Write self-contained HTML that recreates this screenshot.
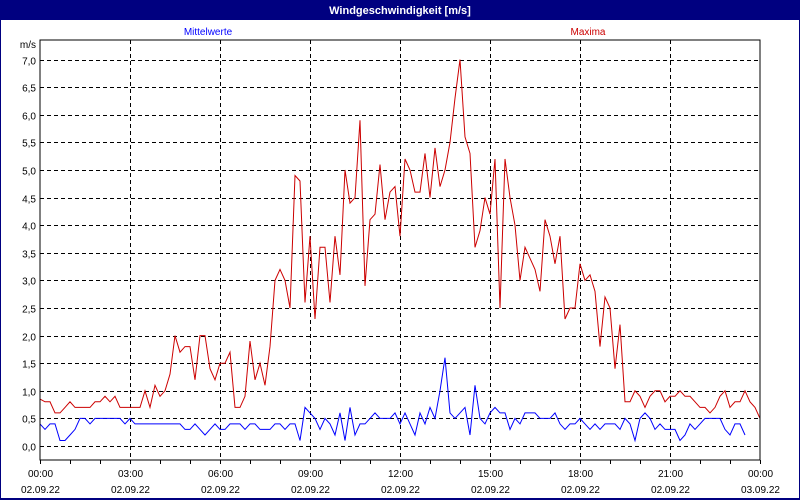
<!DOCTYPE html>
<html><head><meta charset="utf-8"><style>
body{margin:0;width:800px;height:500px;overflow:hidden;background:#fff}
svg{display:block;font-family:"Liberation Sans",sans-serif}
</style></head><body>
<svg width="800" height="500">
<rect x="0" y="0" width="800" height="500" fill="#000080"/>
<rect x="1" y="20" width="798" height="478" fill="#fff"/>
<text x="400" y="14" fill="#fff" font-size="11" font-weight="bold" text-anchor="middle">Windgeschwindigkeit [m/s]</text>
<text x="208" y="35" fill="#0000ff" font-size="10" text-anchor="middle">Mittelwerte</text>
<text x="588" y="35" fill="#cc0000" font-size="10" text-anchor="middle">Maxima</text>
<text x="36" y="48" font-size="10" text-anchor="end">m/s</text>
<g id="grid"></g>
<g id="series"></g>
<rect x="40" y="40" width="720" height="420" fill="none" stroke="#000" stroke-width="1"/>
<g id="axes"></g>
</svg>
<script>
const yTicks=[0,0.5,1,1.5,2,2.5,3,3.5,4,4.5,5,5.5,6,6.5,7];
const xTickHours=[0,3,6,9,12,15,18,21,24];
const xTimeLabels=["00:00","03:00","06:00","09:00","12:00","15:00","18:00","21:00","00:00"];
const xDateLabels=["02.09.22","02.09.22","02.09.22","02.09.22","02.09.22","02.09.22","02.09.22","02.09.22","03.09.22"];
const maxima=[0.85,0.8,0.8,0.6,0.6,0.7,0.8,0.7,0.7,0.7,0.7,0.8,0.8,0.9,0.8,0.9,0.7,0.7,0.7,0.7,0.7,1.0,0.7,1.1,0.9,1.0,1.3,2.0,1.7,1.8,1.8,1.2,2.0,2.0,1.4,1.2,1.5,1.5,1.7,0.7,0.7,0.9,1.9,1.2,1.5,1.1,1.8,3.0,3.2,3.0,2.5,4.9,4.8,2.6,3.8,2.3,3.6,3.6,2.6,3.8,3.1,5.0,4.4,4.5,5.9,2.9,4.1,4.2,5.1,4.1,4.6,4.7,3.8,5.2,5.0,4.6,4.6,5.3,4.5,5.4,4.7,5.0,5.5,6.3,7.0,5.6,5.3,3.6,3.9,4.5,4.2,5.2,2.5,5.2,4.5,4.0,3.0,3.6,3.4,3.2,2.8,4.1,3.8,3.3,3.8,2.3,2.5,2.5,3.3,3.0,3.1,2.8,1.8,2.7,2.5,1.4,2.2,0.8,0.8,1.0,0.9,0.7,0.9,1.0,1.0,0.8,0.9,0.9,1.0,0.9,0.9,0.8,0.7,0.7,0.6,0.7,0.9,1.0,0.7,0.8,0.8,1.0,0.8,0.7,0.5];
const mittel=[0.4,0.3,0.4,0.4,0.1,0.1,0.2,0.3,0.5,0.5,0.4,0.5,0.5,0.5,0.5,0.5,0.5,0.4,0.5,0.4,0.4,0.4,0.4,0.4,0.4,0.4,0.4,0.4,0.4,0.3,0.3,0.4,0.3,0.2,0.3,0.4,0.3,0.3,0.4,0.4,0.4,0.3,0.4,0.4,0.3,0.3,0.3,0.4,0.4,0.3,0.4,0.4,0.1,0.7,0.6,0.5,0.3,0.5,0.4,0.2,0.6,0.1,0.7,0.2,0.4,0.4,0.5,0.6,0.5,0.5,0.5,0.6,0.4,0.6,0.4,0.2,0.6,0.4,0.7,0.5,1.0,1.6,0.6,0.5,0.6,0.7,0.2,1.1,0.5,0.4,0.6,0.7,0.6,0.6,0.3,0.5,0.4,0.6,0.6,0.6,0.5,0.5,0.5,0.6,0.4,0.3,0.4,0.4,0.5,0.4,0.3,0.4,0.3,0.4,0.4,0.4,0.3,0.5,0.4,0.1,0.5,0.6,0.5,0.3,0.4,0.3,0.3,0.3,0.1,0.2,0.4,0.3,0.4,0.5,0.5,0.5,0.5,0.3,0.2,0.4,0.4,0.2];
const stepMinutes=10;
const NS="http://www.w3.org/2000/svg";
function xScale(h){return 40+h*30;}
function yScale(v){return 446-v*55.2;}
function mk(tag,attrs,parent){const e=document.createElementNS(NS,tag);for(const k in attrs)e.setAttribute(k,attrs[k]);parent.appendChild(e);return e;}
const grid=document.getElementById('grid'),axes=document.getElementById('axes'),series=document.getElementById('series');
yTicks.forEach(v=>{
  const y=Math.round(yScale(v))+0.5;
  const l=mk('line',{x1:40,x2:760,y1:y,y2:y,stroke:'#000','stroke-dasharray':'4,3'},grid);
  
  
  const t=mk('text',{x:36,y:y+4,'font-size':10,'text-anchor':'end'},axes);
  t.textContent=v.toFixed(1).replace('.',',');
  
  
});
xTickHours.forEach((h,i)=>{
  const x=Math.round(xScale(h))+0.5;
  if(h>0&&h<24){const l=mk('line',{x1:x,x2:x,y1:40,y2:460,stroke:'#000','stroke-dasharray':'4,3'},grid);
  
  }
  const t=mk('text',{x:x,y:477,'font-size':10,'text-anchor':'middle'},axes);
  t.textContent=xTimeLabels[i];
  
  
  const d=mk('text',{x:x,y:493,'font-size':10,'text-anchor':'middle'},axes);
  d.textContent=xDateLabels[i];
  
  
});
for(let h=0;h<=24;h++){const x=Math.round(xScale(h))+0.5;
  const l=mk('line',{x1:x,x2:x,y1:460,y2:464,stroke:'#000'},axes);
  
  }
function line(vals,color,name){
  const pts=vals.map((v,i)=>xScale(i*stepMinutes/60).toFixed(1)+','+yScale(v).toFixed(1)).join(' ');
  const p=mk('polyline',{points:pts,fill:'none',stroke:color,'stroke-width':1},series);
  
  
}
line(maxima,'#cc0000','maxima-line');
line(mittel,'#0000ff','mittelwerte-line');
</script>
</body></html>
